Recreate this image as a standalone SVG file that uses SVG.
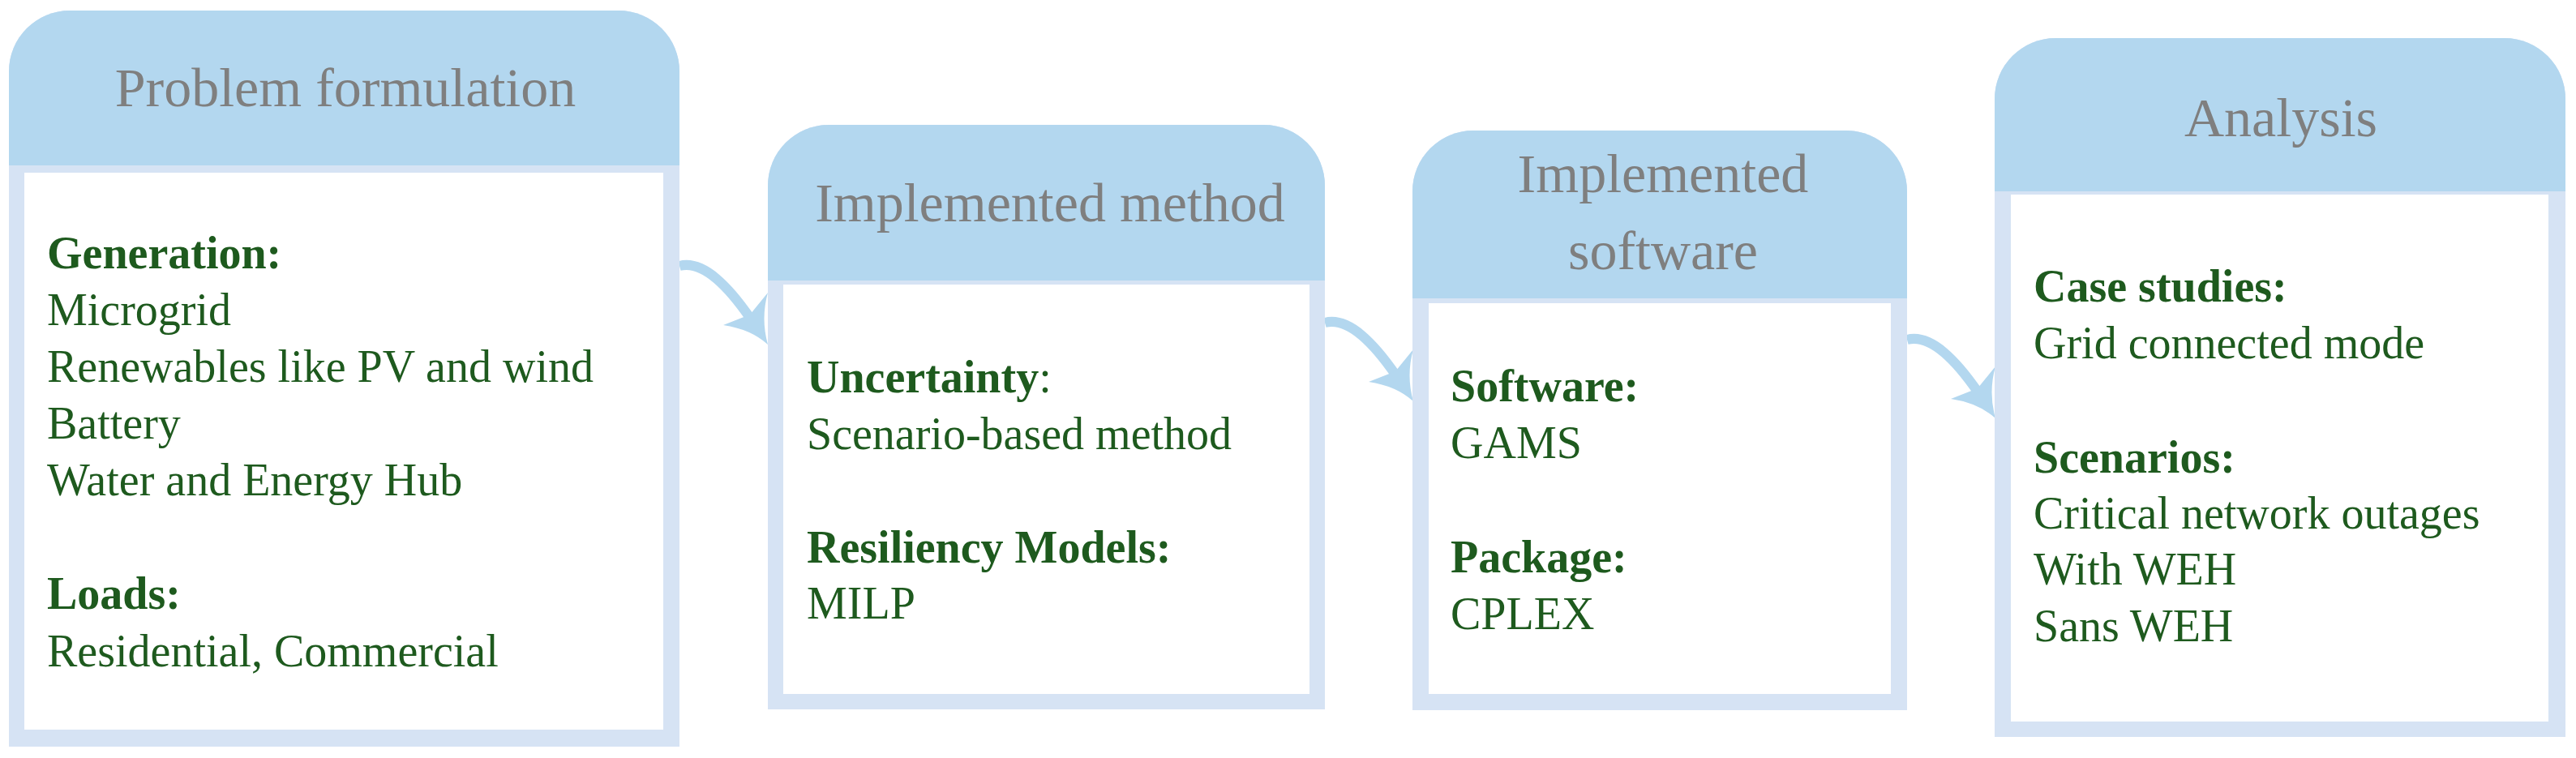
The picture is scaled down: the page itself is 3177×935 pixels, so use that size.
<svg xmlns="http://www.w3.org/2000/svg" xmlns:xlink="http://www.w3.org/1999/xlink" width="3177" height="935" viewBox="0 0 3177 935">
<style>
.band{fill:#d6e3f4}
.head{fill:#b3d7ef}
.inner{fill:#ffffff}
.title{font-family:"Liberation Serif","Times New Roman",serif;font-size:68px;fill:#7f7f7f;text-anchor:middle}
.body{font-family:"Liberation Serif","Times New Roman",serif;font-size:56px;fill:#1e5a1e}
.b{font-weight:bold}
.shaft{fill:none;stroke:#b3d7ef;stroke-width:12}
.tip{fill:#b3d7ef}
</style>
<defs>
<g id="arr">
<path class="shaft" d="M0,0 C30,-8 62,28 87,64"/>
<path class="tip" d="M54,73 Q88,78 109,97 Q100,65 109,33 L87,60 Z"/>
</g>
</defs>
<rect width="3177" height="935" fill="#ffffff"/>
<g id="connectors">
<use xlink:href="#arr" transform="translate(838,328)"/>
<use xlink:href="#arr" transform="translate(1634,398)"/>
<use xlink:href="#arr" transform="translate(2352,419)"/>
</g>
<g id="node1">
<path class="band" d="M11,88 A75,75 0 0 1 86,13 H763 A75,75 0 0 1 838,88 V921 H11 Z"/>
<path class="head" d="M11,88 A75,75 0 0 1 86,13 H763 A75,75 0 0 1 838,88 V204 H11 Z"/>
<rect class="inner" x="30" y="213" width="788" height="687"/>
<text class="title" x="426" y="131">Problem formulation</text>
<text class="body" x="58" y="331"><tspan class="b">Generation:</tspan></text>
<text class="body" x="58" y="401">Microgrid</text>
<text class="body" x="58" y="471">Renewables like PV and wind</text>
<text class="body" x="58" y="541">Battery</text>
<text class="body" x="58" y="611">Water and Energy Hub</text>
<text class="body b" x="58" y="751">Loads:</text>
<text class="body" x="58" y="822">Residential, Commercial</text>
</g>
<g id="node2">
<path class="band" d="M947,229 A75,75 0 0 1 1022,154 H1559 A75,75 0 0 1 1634,229 V875 H947 Z"/>
<path class="head" d="M947,229 A75,75 0 0 1 1022,154 H1559 A75,75 0 0 1 1634,229 V346 H947 Z"/>
<rect class="inner" x="966" y="351" width="649" height="505"/>
<text class="title" x="1295" y="273">Implemented method</text>
<text class="body" x="995" y="484"><tspan class="b">Uncertainty</tspan>:</text>
<text class="body" x="995" y="554">Scenario-based method</text>
<text class="body b" x="995" y="694">Resiliency Models:</text>
<text class="body" x="995" y="763">MILP</text>
</g>
<g id="node3">
<path class="band" d="M1742,236 A75,75 0 0 1 1817,161 H2277 A75,75 0 0 1 2352,236 V876 H1742 Z"/>
<path class="head" d="M1742,236 A75,75 0 0 1 1817,161 H2277 A75,75 0 0 1 2352,236 V368 H1742 Z"/>
<rect class="inner" x="1762" y="374" width="570" height="482"/>
<text class="title" x="2051" y="237">Implemented</text>
<text class="title" x="2051" y="332">software</text>
<text class="body b" x="1789" y="495">Software:</text>
<text class="body" x="1789" y="565">GAMS</text>
<text class="body b" x="1789" y="706">Package:</text>
<text class="body" x="1789" y="776">CPLEX</text>
</g>
<g id="node4">
<path class="band" d="M2460,122 A75,75 0 0 1 2535,47 H3089 A75,75 0 0 1 3164,122 V909 H2460 Z"/>
<path class="head" d="M2460,122 A75,75 0 0 1 2535,47 H3089 A75,75 0 0 1 3164,122 V236 H2460 Z"/>
<rect class="inner" x="2480" y="240" width="663" height="650"/>
<text class="title" x="2813" y="168">Analysis</text>
<text class="body b" x="2508" y="372">Case studies:</text>
<text class="body" x="2508" y="442">Grid connected mode</text>
<text class="body b" x="2508" y="583">Scenarios:</text>
<text class="body" x="2508" y="652">Critical network outages</text>
<text class="body" x="2508" y="721">With WEH</text>
<text class="body" x="2508" y="791">Sans WEH</text>
</g>
</svg>
